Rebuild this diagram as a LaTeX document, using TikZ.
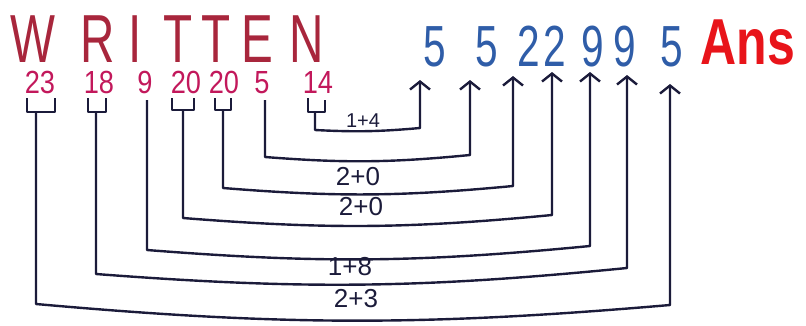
\documentclass[tikz,border=0pt]{standalone}
\usepackage{fontspec}
\setmainfont{Liberation Sans}
\newfontfamily\handfont[FakeStretch=0.7]{Liberation Sans}
\newfontfamily\codefont[FakeStretch=0.85]{Liberation Sans}
\usepackage{graphicx}
\usepackage{tikz}
\usetikzlibrary{arrows.meta, positioning, calc}
\definecolor{wordred}{HTML}{A8263C}
\definecolor{codepink}{HTML}{C2185B}
\definecolor{digitblue}{HTML}{2F5DA8}
\definecolor{ink}{HTML}{1B1B3A}
\definecolor{ansred}{HTML}{E8141A}

\begin{document}
\begin{tikzpicture}[x=1pt, y=1pt,
  every node/.style={inner sep=0pt},
  letter/.style={text=wordred, font=\handfont\fontsize{68}{68}\selectfont,
                 text height=49pt, text depth=0pt},
  code/.style={text=codepink, font=\codefont\fontsize{32}{32}\selectfont,
               text height=23pt, text depth=0pt},
  digit/.style={text=digitblue, font=\handfont\fontsize{58}{58}\selectfont,
                text height=42pt, text depth=0pt},
  sumlabel/.style={text=ink, font=\fontsize{26}{26}\selectfont,
                   text height=19pt, text depth=0pt},
  wire/.style={ink, line width=2.4pt, line join=round},
  uparrow/.style={wire, -{Straight Barb[length=8pt, width=20pt, line width=2.4pt]}}
]
  \useasboundingbox (0,0) rectangle (806,-325);

  % the word
  \node[letter] (lw) at (33,-38) {W};
  \node[letter] (lr) at (98,-38) {R};
  \node[letter] (li) at (135,-38) {I};
  \node[letter] (lt1) at (178,-38) {T};
  \node[letter] (lt2) at (216,-38) {T};
  \node[letter] (le) at (257,-38) {E};
  \node[letter] (ln) at (307,-38) {N};

  % letter positions
  \node[code] (c23) at (40,-82) {23};
  \node[code] (c18) at (99,-82) {18};
  \node[code] (c9) at (145,-82) {9};
  \node[code] (c20a) at (186,-82) {20};
  \node[code] (c20b) at (224,-82) {20};
  \node[code] (c5) at (262,-82) {5};
  \node[code] (c14) at (318,-82) {14};

  % reduced digits
  \node[digit] (d1) at (435,-45) {5};
  \node[digit] (d2) at (487,-45) {5};
  \node[digit] (d3) at (529,-45) {2};
  \node[digit] (d4) at (555,-45) {2};
  \node[digit] (d5) at (593,-45) {9};
  \node[digit] (d6) at (625,-45) {9};
  \node[digit] (d7) at (672,-45) {5};
  \node[text=ansred, font=\bfseries\fontsize{50}{50}\selectfont] (ans) at (748,-42)
    {\scalebox{1}[1.3]{Ans}};

  % brackets under two-digit numbers
  \draw[wire] (27,-98) -- (27,-112) -- (55,-112) -- (55,-98);
  \draw[wire] (88,-98) -- (88,-112) -- (106,-112) -- (106,-98);
  \draw[wire] (172,-98) -- (172,-110) -- (194,-110) -- (194,-98);
  \draw[wire] (215,-98) -- (215,-110) -- (231,-110) -- (231,-98);
  \draw[wire] (308,-98) -- (308,-112) -- (325,-112) -- (325,-100);

  \coordinate (s23) at (36,-112);
  \coordinate (s18) at (96,-112);
  \coordinate (s9) at (147,-100);
  \coordinate (s20a) at (183,-110);
  \coordinate (s20b) at (223,-110);
  \coordinate (s5) at (265,-100);
  \coordinate (s14) at (315,-112);

  \coordinate (t1) at (420,-80);
  \coordinate (t2) at (470,-80);
  \coordinate (t3) at (513,-76);
  \coordinate (t4) at (552,-72);
  \coordinate (t5) at (590,-72);
  \coordinate (t6) at (627,-75);
  \coordinate (t7) at (670,-84);

  % connectors
  \draw[uparrow] (s14) -- (315,-130) to[bend right=4] (420,-128) -- (t1);
  \draw[uparrow] (s5) -- (265,-157) to[bend right=5] (470,-155) -- (t2);
  \draw[uparrow] (s20b) -- (223,-188) to[bend right=5] (513,-186) -- (t3);
  \draw[uparrow] (s20a) -- (183,-218) to[bend right=5] (552,-215) -- (t4);
  \draw[uparrow] (s9) -- (147,-250) to[bend right=5] (590,-246) -- (t5);
  \draw[uparrow] (s18) -- (96,-274) to[bend right=5] (627,-268) -- (t6);
  \draw[uparrow] (s23) -- (36,-304) to[bend right=5] (670,-305) -- (t7);

  \node[sumlabel, font=\fontsize{20}{20}\selectfont, text height=14pt] (l14) at (363,-120) {1+4};
  \node[sumlabel] (l20b) at (358,-176) {2+0};
  \node[sumlabel] (l20a) at (361,-206) {2+0};
  \node[sumlabel] (l18) at (350,-266) {1+8};
  \node[sumlabel] (l23) at (356,-298) {2+3};
\end{tikzpicture}
\end{document}
